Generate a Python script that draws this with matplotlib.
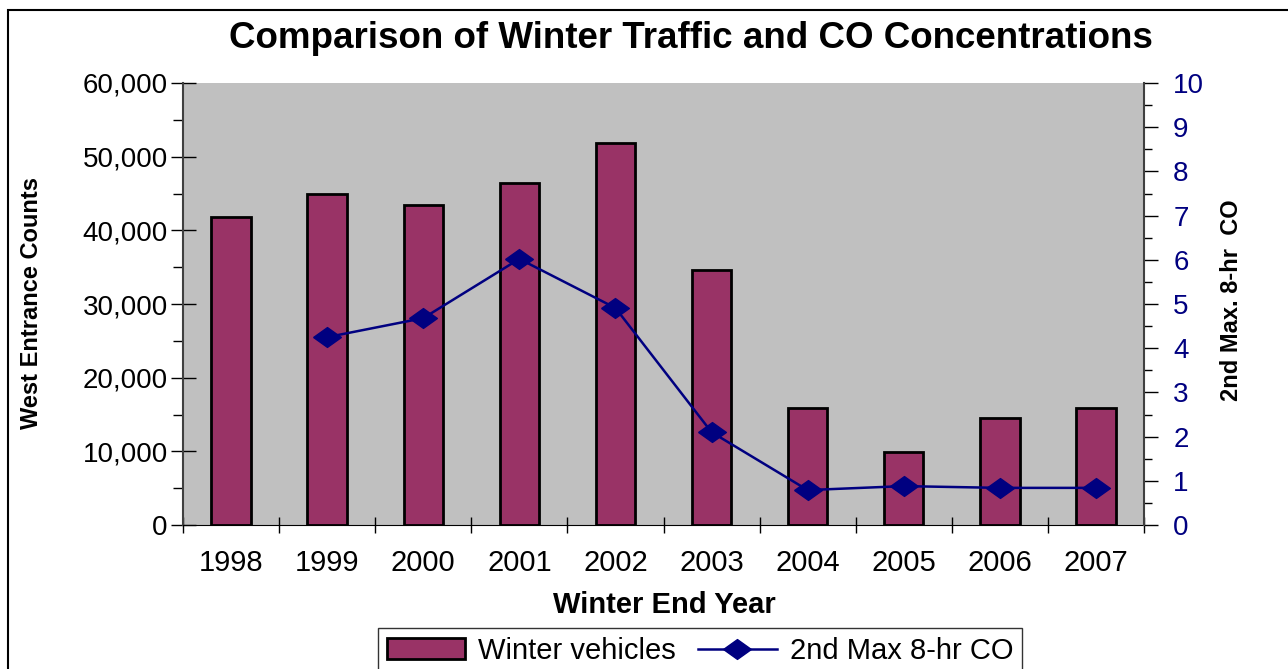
import matplotlib
matplotlib.use("Agg")
import matplotlib.pyplot as plt
import numpy as np
from matplotlib.ticker import FuncFormatter, MultipleLocator
from matplotlib.patches import Rectangle

# data
years = ["1998", "1999", "2000", "2001", "2002", "2003", "2004", "2005", "2006", "2007"]
vehicles = [41800, 44900, 43400, 46400, 51900, 34600, 15900, 9900, 14500, 15900]
co_max = [np.nan, 4.25, 4.68, 6.02, 4.91, 2.10, 0.79, 0.88, 0.84, 0.84]

plt.rcParams['font.family'] = ['Liberation Sans', 'DejaVu Sans']

W, H = 1288, 669
fig = plt.figure(figsize=(W / 100, H / 100), dpi=100)
ax = fig.add_axes([183 / W, 1 - 525 / H, (1144 - 183) / W, (525 - 83) / H])
ax.set_facecolor("#C0C0C0")

x = np.arange(len(years))
bars = ax.bar(x, vehicles, width=0.41, color="#993366", edgecolor="black",
              linewidth=2, label="Winter vehicles", zorder=2)
ax.set_xlim(-0.5, len(years) - 0.5)
ax.set_ylim(0, 60000)
ax.yaxis.set_major_locator(MultipleLocator(10000))
ax.yaxis.set_minor_locator(MultipleLocator(5000))
ax.yaxis.set_major_formatter(FuncFormatter(lambda v, p: f"{int(v):,}"))
ax.tick_params(axis="y", which="major", direction="inout", length=18, width=1,
               labelsize=20, pad=2)
ax.tick_params(axis="y", which="minor", direction="out", length=7, width=1)

# category boundary ticks on x axis, labels centred
ax.set_xticks(np.arange(-0.5, len(years), 1.0))
ax.set_xticklabels([])
ax.set_xticks(x, minor=True)
ax.set_xticklabels(years, minor=True)
ax.tick_params(axis="x", which="major", direction="inout", length=12, width=1)
ax.tick_params(axis="x", which="minor", length=0, labelsize=21, pad=17)

for side in ["top", "right"]:
    ax.spines[side].set_visible(False)
ax.spines["left"].set_color("#404040")
ax.spines["left"].set_linewidth(1.5)
ax.spines["bottom"].set_color("black")

ax.set_xlabel("Winter End Year", fontsize=21, fontweight="bold")
ax.xaxis.set_label_coords((664 - 183) / 961, -(591 - 525) / 442)
ax.set_ylabel("West Entrance Counts", fontsize=17, fontweight="bold")
ax.yaxis.set_label_coords(-(183 - 43) / 961, (525 - 303) / 442)

ax2 = ax.twinx()
diamond = [(-1.4, 0), (0, 1), (1.4, 0), (0, -1), (-1.4, 0)]
line, = ax2.plot(x, co_max, color="#000080", linewidth=1.8, marker=diamond,
                 markersize=20, markerfacecolor="#000080", markeredgecolor="#000080",
                 label="2nd Max 8-hr CO", zorder=3)
ax2.set_ylim(0, 10)
ax2.yaxis.set_major_locator(MultipleLocator(1))
ax2.yaxis.set_minor_locator(MultipleLocator(0.5))
ax2.tick_params(axis="y", which="major", direction="out", length=10, width=1,
                labelsize=20, labelcolor="#000080", pad=11)
ax2.tick_params(axis="y", which="minor", direction="out", length=6, width=1)
for side in ["top", "left", "bottom"]:
    ax2.spines[side].set_visible(False)
ax2.spines["right"].set_color("#404040")
ax2.spines["right"].set_linewidth(1.5)
ax2.set_ylabel("2nd Max. 8-hr  CO", fontsize=17, fontweight="bold", rotation=90)
ax2.yaxis.set_label_coords(1 + (1220 - 1144) / 961, (525 - 300) / 442)

fig.text(691 / W, 1 - 39 / H, "Comparison of Winter Traffic and CO Concentrations",
         ha="center", va="center", fontsize=26.5, fontweight="bold")

leg = fig.legend([bars, line], ["Winter vehicles", "2nd Max 8-hr CO"], ncol=2,
                 loc="upper center", bbox_to_anchor=(700 / W, 1 - 628 / H),
                 borderaxespad=0, fontsize=21, frameon=True, fancybox=False,
                 edgecolor="black", handlelength=2.7, handletextpad=0.45,
                 columnspacing=0.75, borderpad=0.3)
leg.get_frame().set_linewidth(1)

# outer chart border
fig.patches.append(Rectangle((8 / W, -0.05), 1.2, 1 - 10 / H + 0.05,
                             transform=fig.transFigure, fill=False,
                             edgecolor="black", linewidth=1.5))

fig.savefig("out.png", dpi=100)
